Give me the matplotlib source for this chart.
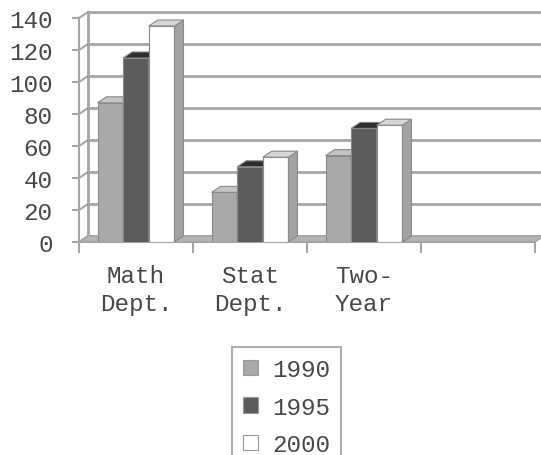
import matplotlib
matplotlib.use("Agg")
import matplotlib.pyplot as plt
from matplotlib.patches import Polygon, Patch

categories = ["Math\nDept.", "Stat\nDept.", "Two-\nYear"]
series_names = ["1990", "1995", "2000"]
values_1990 = [87, 31, 54]
values_1995 = [115, 47, 71]
values_2000 = [135, 53, 73]
y_ticks = [0, 20, 40, 60, 80, 100, 120, 140]

all_values = [values_1990, values_1995, values_2000]
front_colors = ["#a9a9a9", "#5c5c5c", "#ffffff"]
side_colors = ["#9a9a9a", "#484848", "#a3a3a3"]
top_colors = ["#c4c4c4", "#2e2e2e", "#d6d6d6"]
edge = "#8a8a8a"
grid_c = "#a5a5a5"
text_c = "#484848"
FONT = "Liberation Mono"
FS = 17.5

W, H = 541, 456
fig = plt.figure(figsize=(W / 100, H / 100), dpi=100)
ax = fig.add_axes([79 / W, (H - 243) / H, (535 - 79) / W, (243 - 19) / H])
n_slots = 4
ax.set_xlim(-0.5, n_slots - 0.5)
ax.set_ylim(0, 140)
for s in ax.spines.values():
    s.set_visible(False)

# depth offset in data units
px_x = ax.bbox.width / n_slots
px_y = ax.bbox.height / 140
ddx = 9 / px_x
ddy = 6 / px_y
x0, x1 = -0.5, n_slots - 0.5

# floor
ax.add_patch(Polygon([(x0, 0), (x1, 0), (x1 + ddx, ddy), (x0 + ddx, ddy)],
                     closed=True, facecolor="#b4b4b4", edgecolor=grid_c,
                     lw=1, zorder=1, clip_on=False))
# back wall gridlines & left wall
for t in y_ticks:
    ax.plot([x0 + ddx, x1 + ddx], [t + ddy, t + ddy], color=grid_c, lw=2,
            zorder=0.5, clip_on=False, solid_capstyle="butt")
    ax.plot([x0, x0 + ddx], [t, t + ddy], color=grid_c, lw=1.5,
            zorder=0.6, clip_on=False)
ax.plot([x0 + ddx, x0 + ddx], [ddy, 140 + ddy], color=grid_c, lw=2,
        zorder=0.6, clip_on=False)
ax.plot([x0, x0], [0, 140], color=grid_c, lw=1.5, zorder=0.7, clip_on=False)
ax.plot([x0, x1], [0, 0], color=grid_c, lw=1.5, zorder=1.5, clip_on=False)

# bars
w = 0.225
for i in range(len(categories)):
    for j, vals in enumerate(all_values):
        h = vals[i]
        xl = i - 1.5 * w + j * w
        xr = xl + w
        z = 3 + j
        ax.bar(xl, h, width=w, align="edge", color=front_colors[j],
               edgecolor=edge, linewidth=0.8, zorder=z)
        ax.add_patch(Polygon([(xr, 0), (xr + ddx, ddy), (xr + ddx, h + ddy), (xr, h)],
                             closed=True, facecolor=side_colors[j], edgecolor=edge,
                             lw=0.8, zorder=z))
        ax.add_patch(Polygon([(xl, h), (xr, h), (xr + ddx, h + ddy), (xl + ddx, h + ddy)],
                             closed=True, facecolor=top_colors[j], edgecolor=edge,
                             lw=0.8, zorder=z))

# ticks
ax.set_yticks(y_ticks)
ax.set_yticklabels([str(t) for t in y_ticks], fontfamily=FONT, fontsize=FS, color=text_c)
ax.tick_params(axis="y", length=5, width=1.5, color=grid_c, pad=14)
ax.set_xticks(range(len(categories)))
ax.set_xticklabels(categories, fontfamily=FONT, fontsize=FS, color=text_c, linespacing=1.25)
ax.tick_params(axis="x", length=0, pad=16)
ax.set_xticks([x0 + k for k in range(n_slots + 1)], minor=True)
ax.tick_params(axis="x", which="minor", length=8, width=1.5, color=grid_c)

handles = [Patch(facecolor=front_colors[j], edgecolor="#9a9a9a", lw=0.8) for j in range(3)]
leg = fig.legend(handles, series_names, loc="upper left",
                 bbox_to_anchor=(232 / W, (H - 348) / H), frameon=True,
                 fancybox=False, borderaxespad=0, borderpad=0.45,
                 handlelength=0.6, handleheight=0.6, handletextpad=0.6,
                 labelspacing=0.6,
                 prop={"family": FONT, "size": FS})
leg.get_frame().set_edgecolor("#9a9a9a")
leg.get_frame().set_linewidth(1.5)
for t in leg.get_texts():
    t.set_color(text_c)

fig.savefig("out.png", dpi=100)
